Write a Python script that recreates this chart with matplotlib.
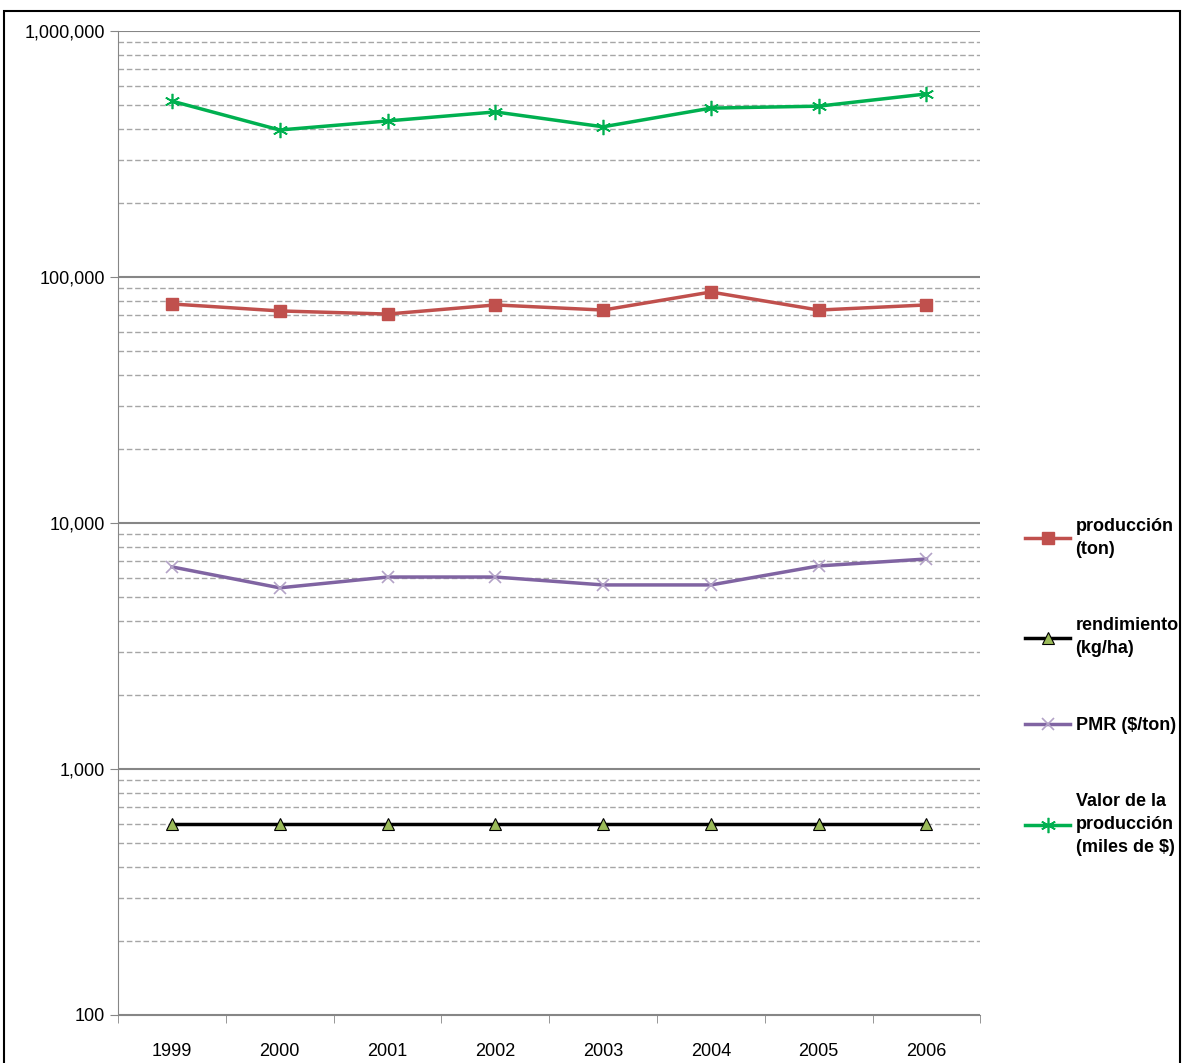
import matplotlib
matplotlib.use("Agg")
import matplotlib.pyplot as plt
from matplotlib.ticker import LogLocator, FuncFormatter, NullFormatter, FixedLocator
from matplotlib.patches import Rectangle

years = ["1999","2000","2001","2002","2003","2004","2005","2006"]
produccion = [77700, 72800, 70700, 77000, 73400, 86900, 73400, 77000]
rendimiento = [600, 600, 600, 600, 600, 600, 600, 600]
pmr = [6630, 5450, 6030, 6030, 5600, 5600, 6690, 7140]
valor = [519000, 396000, 431000, 469000, 408000, 486000, 495000, 555000]
labels = ["producción\n(ton)", "rendimiento\n(kg/ha)", "PMR ($/ton)", "Valor de la\nproducción\n(miles de $)"]

plt.rcParams['font.family'] = ['Liberation Sans', 'DejaVu Sans']
fig = plt.figure(figsize=(11.84, 10.63), dpi=100)
fig.patches.append(Rectangle((0.003, -0.01), 0.994, 1.0, transform=fig.transFigure,
                             fill=False, edgecolor='black', lw=1.5))
ax = fig.add_axes([0.0997, 0.0452, 0.7283, 0.9256])
x = list(range(len(years)))
l1, = ax.plot(x, produccion, color='#c0504d', lw=2.5, marker='s', ms=9, mfc='#c0504d', mec='#c0504d')
l2, = ax.plot(x, rendimiento, color='black', lw=2.5, marker='^', ms=9, mfc='#9bbb59', mec='black', mew=0.8)
l3, = ax.plot(x, pmr, color='#8064a2', lw=2.5, marker='x', ms=9, mec='#b3a2c7', mew=1.2)
l4, = ax.plot(x, valor, color='#00b050', lw=2.5, marker=(6, 2, 0), ms=11, mec='#00b050', mew=1.2)
ax.set_yscale('log')
ax.set_ylim(100, 1e6)
ax.set_xlim(-0.5, 7.5)
ax.yaxis.set_major_locator(LogLocator(base=10))
ax.yaxis.set_minor_locator(LogLocator(base=10, subs=range(2, 10)))
ax.yaxis.set_major_formatter(FuncFormatter(lambda v, p: f"{int(round(v)):,}"))
ax.yaxis.set_minor_formatter(NullFormatter())
ax.grid(True, which='major', axis='y', color='#868686', lw=1.5)
ax.grid(True, which='minor', axis='y', color='#a6a6a6', lw=1, ls=(0, (4, 2)))
ax.set_axisbelow(True)
ax.set_xticks(x)
ax.set_xticklabels(years)
ax.xaxis.set_minor_locator(FixedLocator([i - 0.5 for i in range(9)]))
ax.tick_params(axis='x', which='major', length=0, labelsize=13, pad=20)
ax.tick_params(axis='x', which='minor', length=6, color='#868686')
ax.tick_params(axis='y', which='major', length=6, color='#868686', labelsize=13)
ax.tick_params(axis='y', which='minor', length=0)
for s in ['top', 'right']:
    ax.spines[s].set_visible(False)
ax.spines['left'].set_color('#868686')
ax.spines['bottom'].set_color('#868686')
leg = fig.legend([l1, l2, l3, l4], labels, loc='upper left', bbox_to_anchor=(0.852, 0.528),
                 frameon=False, labelspacing=3.3, handlelength=2.5, handletextpad=0.3,
                 prop={'weight': 'bold', 'size': 13})
for t in leg.get_texts():
    t.set_linespacing(1.45)
fig.savefig("out.png", dpi=100)
